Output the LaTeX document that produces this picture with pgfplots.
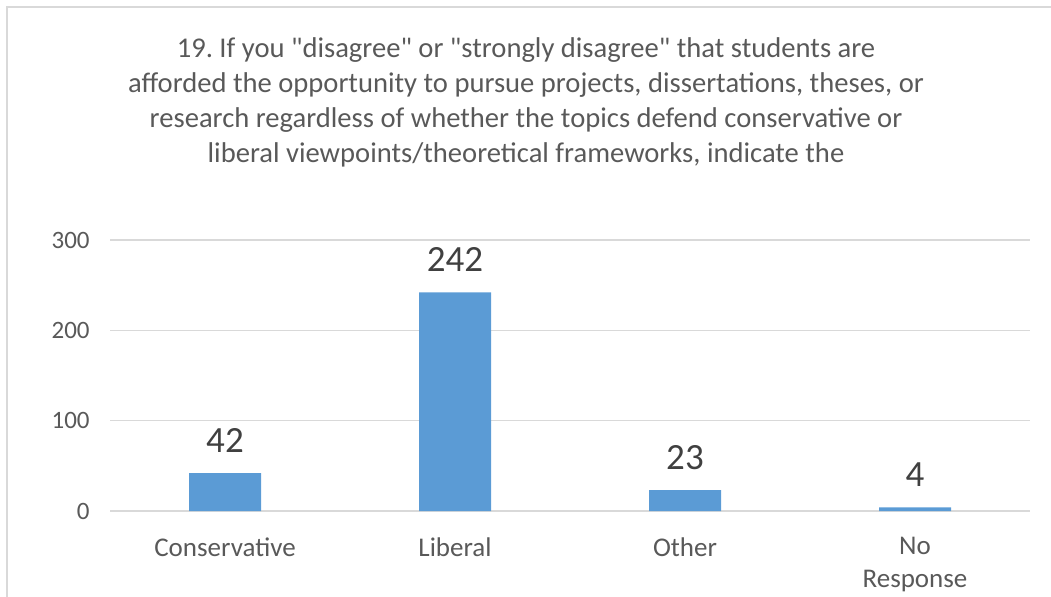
\documentclass[border=0pt]{standalone}
\usepackage{pgfplots}
\pgfplotsset{compat=1.18}
\usepackage{fontspec}
\setmainfont{Carlito}[Ligatures=TeXOff]
\frenchspacing
\definecolor{barblue}{HTML}{5B9BD5}
\definecolor{txt}{HTML}{595959}
\definecolor{lbl}{HTML}{404040}
\definecolor{grd}{HTML}{D9D9D9}

\begin{document}
\begin{tikzpicture}
\useasboundingbox (0pt,0pt) rectangle (525.5pt,298pt);
% chart frame (only left and top edges are visible)
\draw[grd, line width=1pt] (3.5pt,-5pt) -- (3.5pt,294.5pt) -- (530pt,294.5pt);
\node[align=center, text=txt, font=\fontsize{14.3}{17.6}\selectfont] at (263pt,246.8pt)
  {19. If you "disagree" or "strongly disagree" that students are\\
   afforded the opportunity to pursue projects, dissertations, theses, or\\
   research regardless of whether the topics defend conservative or\\
   liberal viewpoints/theoretical frameworks, indicate the};
\begin{axis}[
    at={(55pt,42.5pt)}, anchor=south west,
    scale only axis,
    width=460pt, height=135.5pt,
    ymin=0, ymax=300,
    ytick={0,100,200,300},
    xmin=-0.5, xmax=3.5,
    xtick={0,1,2,3},
    xticklabels={Conservative,Liberal,Other,{No\\Response}},
    axis line style={draw=none},
    major tick length=0pt,
    ymajorgrids,
    grid style={grd, line width=0.75pt},
    /pgf/number format/assume math mode=true,
    ticklabel style={text=txt},
    xticklabel style={font=\fontsize{13.5}{16.5}\selectfont, align=center, anchor=north, inner sep=0pt, yshift=-13pt},
    yticklabel style={font=\fontsize{12.5}{15}\selectfont, anchor=east, inner sep=0pt, xshift=-10pt},
    ybar, bar width=36pt,
    nodes near coords,
    every node near coord/.append style={font=\fontsize{18.5}{20}\selectfont, text=lbl, anchor=south, inner sep=0pt, yshift=10pt},
]
\addplot[fill=barblue, draw=none] coordinates {(0,42) (1,242) (2,23) (3,4)};
\end{axis}
\end{tikzpicture}
\end{document}
